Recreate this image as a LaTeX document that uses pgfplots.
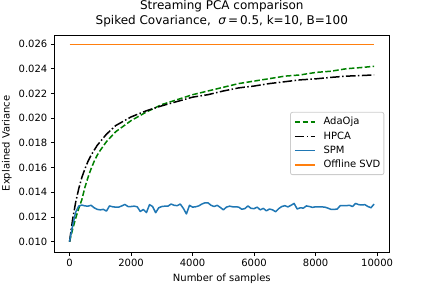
\documentclass[border=0pt]{standalone}
\usepackage{pgfplots}
\pgfplotsset{compat=1.18}
\usepackage{fontspec}
\setmainfont{DejaVu Sans}
\definecolor{mgreen}{RGB}{0,128,0}
\definecolor{tabblue}{HTML}{1F77B4}
\definecolor{taborange}{HTML}{FF7F0E}
\definecolor{legedge}{HTML}{CCCCCC}
\begin{document}
\begin{tikzpicture}
\useasboundingbox (0,0) rectangle (432bp,288bp);
\begin{axis}[
  at={(54.3bp,36bp)}, anchor=south west,
  width=335bp, height=217bp, scale only axis,
  xmin=-495, xmax=10395, ymin=0.00917, ymax=0.02673,
  xtick={0,2000,4000,6000,8000,10000},
  ytick={0.010,0.012,0.014,0.016,0.018,0.020,0.022,0.024,0.026},
  scaled x ticks=false, scaled y ticks=false,
  xticklabel style={/pgf/number format/.cd,1000 sep={},assume math mode=true},
  yticklabel style={/pgf/number format/.cd,fixed,fixed zerofill,precision=3,assume math mode=true},
  tick label style={font=\fontsize{10bp}{12bp}\selectfont},
  label style={font=\fontsize{10bp}{12bp}\selectfont},
  xtick pos=left, ytick pos=left,
  tick align=outside, major tick length=3.5bp,
  every tick/.style={black, line width=0.8bp},
  axis line style={line width=0.8bp},
  xlabel={Number of samples},
  ylabel={Explained Variance},
  title={Streaming PCA comparison\\Spiked Covariance,\ \ {\itshape σ}\,=\,0.5, k=10, B=100},
  title style={font=\fontsize{12bp}{15bp}\selectfont, align=center, yshift=-1bp},
  legend cell align=left,
  legend image code/.code={\draw[#1] (0bp,0bp) -- (20bp,0bp);},
  legend style={at={(0.985,0.5)}, anchor=east, draw=legedge, line width=0.8bp,
    rounded corners=2bp, fill=white, fill opacity=0.8, text opacity=1,
    font=\fontsize{10bp}{12bp}\selectfont,
    nodes={inner sep=0bp, text height=8bp, text depth=2.5bp},
    inner xsep=3.5bp, inner ysep=4.3bp, row sep=3.9bp,
    /tikz/every odd column/.append style={column sep=8bp}},
]
\addplot[mgreen, line width=1.5bp, dash pattern=on 5.55bp off 2.4bp] coordinates {
(0,0.0100) (100,0.0110) (200,0.0119) (300,0.0127) (400,0.0134) (500,0.0144)
(600,0.0152) (700,0.0159) (800,0.0165) (900,0.0170) (1000,0.0174) (1200,0.0181)
(1500,0.0189) (2000,0.0198) (2500,0.0205) (3000,0.0211) (3500,0.0215) (4000,0.0219)
(4500,0.0222) (5000,0.0225) (5500,0.0228) (6000,0.0230) (6500,0.0232) (7000,0.0234)
(7500,0.0235) (8000,0.0237) (8500,0.0238) (9000,0.0240) (9500,0.0241) (9900,0.0242)};
\addlegendentry{AdaOja}
\addplot[black, line width=1.5bp, dash pattern=on 9.6bp off 2.4bp on 1.5bp off 2.4bp] coordinates {
(0,0.0100) (100,0.0118) (200,0.0132) (300,0.0143) (400,0.0152) (500,0.0159)
(600,0.0165) (700,0.0170) (800,0.0174) (900,0.0178) (1000,0.0181) (1200,0.0187)
(1500,0.0194) (2000,0.0201) (2500,0.0206) (3000,0.0210) (3500,0.02135) (4000,0.0217)
(4500,0.0219) (5000,0.0222) (5500,0.02245) (6000,0.0226) (6500,0.0228) (7000,0.02295)
(7500,0.0231) (8000,0.02318) (8500,0.0233) (9000,0.0234) (9500,0.02345) (9900,0.0235)};
\addlegendentry{HPCA}
\addplot[tabblue, line width=1.5bp, line join=round] coordinates {
(0,0.0100) (100,0.0113) (200,0.0124) (300,0.01289) (400,0.01297) (500,0.01290)
(600,0.01288) (700,0.01295) (800,0.01275) (900,0.01262) (1000,0.01258) (1100,0.01262)
(1200,0.01248) (1300,0.01290) (1400,0.01283) (1500,0.01280) (1600,0.01280) (1700,0.01290)
(1800,0.01302) (1900,0.01285) (2000,0.01285) (2100,0.01288) (2200,0.01283) (2300,0.01245)
(2400,0.01261) (2500,0.01236) (2600,0.01300) (2700,0.01285) (2800,0.01235) (2900,0.01275)
(3000,0.01285) (3100,0.01288) (3200,0.01288) (3300,0.01305) (3400,0.01295) (3500,0.01292)
(3600,0.01305) (3700,0.01270) (3800,0.01225) (3900,0.01295) (4000,0.01280) (4100,0.01283)
(4200,0.01290) (4300,0.01305) (4400,0.01315) (4500,0.01315) (4600,0.01295) (4700,0.01285)
(4800,0.01295) (4900,0.01278) (5000,0.01258) (5100,0.01280) (5200,0.01288) (5300,0.01283)
(5400,0.01283) (5500,0.01280) (5600,0.01263) (5700,0.01268) (5800,0.01290) (5900,0.01270)
(6000,0.01268) (6100,0.01280) (6200,0.01258) (6300,0.01270) (6400,0.01250) (6500,0.01265)
(6600,0.01258) (6700,0.01243) (6800,0.01268) (6900,0.01285) (7000,0.01292) (7100,0.01282)
(7200,0.01295) (7300,0.01310) (7400,0.01265) (7500,0.01275) (7600,0.01272) (7700,0.01290)
(7800,0.01285) (7900,0.01278) (8000,0.01283) (8100,0.01283) (8200,0.01282) (8300,0.01280)
(8400,0.01272) (8500,0.01262) (8600,0.01262) (8700,0.01264) (8800,0.01292) (8900,0.01293)
(9000,0.01292) (9100,0.01295) (9200,0.01285) (9300,0.01310) (9400,0.01300) (9500,0.01298)
(9600,0.01300) (9700,0.01285) (9800,0.01275) (9900,0.01305)};
\addlegendentry{SPM}
\addplot[taborange, line width=1.5bp] coordinates {(0,0.02595) (9900,0.02595)};
\addlegendentry{Offline SVD}
\end{axis}
\end{tikzpicture}
\end{document}
